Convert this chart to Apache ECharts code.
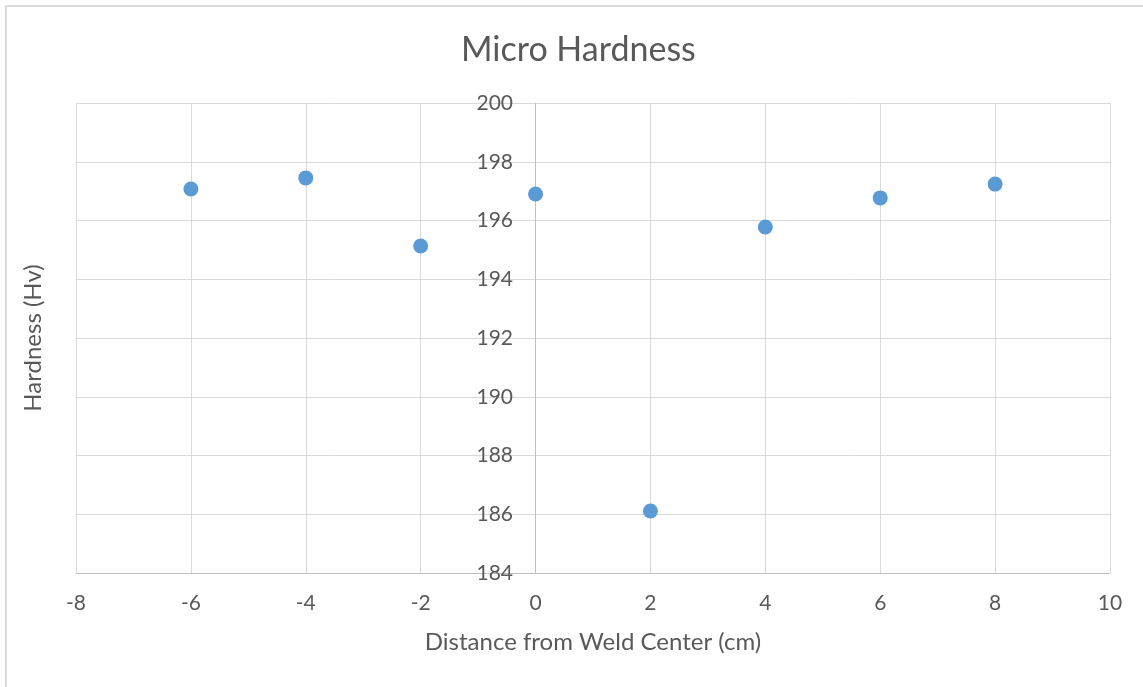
<!DOCTYPE html>
<html>
<head>
<meta charset="utf-8">
<script src="https://cdn.jsdelivr.net/npm/echarts@6/dist/echarts.min.js"></script>
<style>
html,body{margin:0;padding:0;background:#fff;}
#frame{position:absolute;left:5px;top:5px;width:1150px;height:700px;border-left:2px solid #d9d9d9;border-top:2px solid #d9d9d9;box-sizing:border-box;}
#chart{position:absolute;left:0;top:0;width:1143px;height:687px;}
</style>
</head>
<body>
<div id="frame"></div>
<div id="chart"></div>
<script>
const titleText = "Micro Hardness";
const xName = "Distance from Weld Center (cm)";
const yName = "Hardness (Hv)";
const distances = [-6, -4, -2, 0, 2, 4, 6, 8];
const hardness = [197.07, 197.45, 195.13, 196.9, 186.11, 195.78, 196.77, 197.24];
const xRange = [-8, 10, 2];
const yRange = [184, 200, 2];

const font = "Lato, 'Open Sans', sans-serif";
const chart = echarts.init(document.getElementById('chart'), null, {renderer: 'canvas'});
chart.setOption({
  animation: false,
  backgroundColor: 'transparent',
  title: {
    text: titleText, left: 456, top: 28,
    textStyle: {fontFamily: font, fontSize: 34, fontWeight: 'normal', color: '#595959'}
  },
  grid: {left: 76, top: 103, width: 1034, height: 470, containLabel: false, outerBoundsMode: 'none'},
  xAxis: {
    type: 'value', min: xRange[0], max: xRange[1], interval: xRange[2],
    name: xName, nameLocation: 'middle', nameGap: 57, nameMoveOverlap: false,
    nameTextStyle: {fontFamily: font, fontSize: 24, color: '#595959'},
    axisLine: {show: true, onZero: false, lineStyle: {color: '#bfbfbf', width: 1}},
    axisTick: {show: false},
    axisLabel: {fontFamily: font, fontSize: 21, color: '#595959', margin: 20},
    splitLine: {show: true, lineStyle: {color: '#d9d9d9', width: 1}}
  },
  yAxis: {
    type: 'value', min: yRange[0], max: yRange[1], interval: yRange[2],
    position: 'left', offset: -459,
    name: yName, nameLocation: 'middle', nameGap: 490, nameMoveOverlap: false,
    nameTextStyle: {fontFamily: font, fontSize: 24, color: '#595959'},
    axisLine: {show: true, onZero: false, lineStyle: {color: '#bfbfbf', width: 1}},
    axisTick: {show: false},
    axisLabel: {fontFamily: font, fontSize: 21, color: '#595959', margin: 22},
    splitLine: {show: true, lineStyle: {color: '#d9d9d9', width: 1}}
  },
  series: [{
    type: 'scatter',
    data: distances.map((d, i) => [d, hardness[i]]),
    symbol: 'circle', symbolSize: 15,
    itemStyle: {color: '#5b9bd5', opacity: 1}
  }]
});
</script>
</body>
</html>
